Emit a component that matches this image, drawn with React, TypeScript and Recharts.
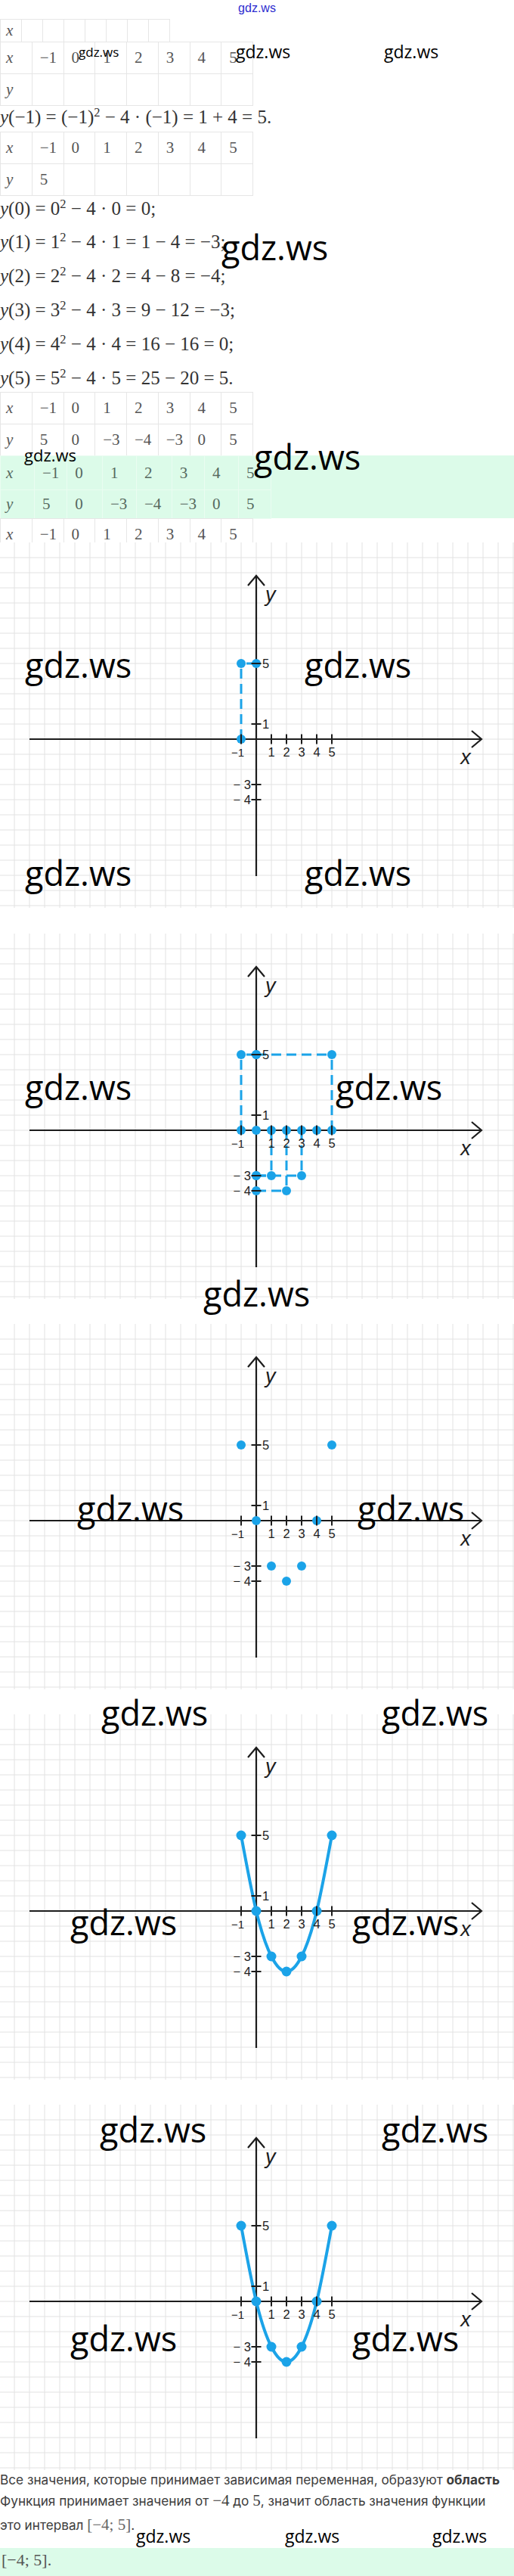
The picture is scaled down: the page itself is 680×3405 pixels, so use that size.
import React from 'react';
import { ComposedChart, XAxis, YAxis, Scatter, Line, ReferenceLine } from 'recharts';

// y = x^2 - 4x, values as in the tables
const xValues = [-1, 0, 1, 2, 3, 4, 5];
const yValues = [5, 0, -3, -4, -3, 0, 5];

// axis ticks and their labels
const xTickValues = [-1, 1, 2, 3, 4, 5];
const xTickLabels = ['−1', '1', '2', '3', '4', '5'];
const yTickValues = [5, 1, -3, -4];
const yTickLabels = ['5', '1', '− 3', '− 4'];

const BLUE = '#1ba3e8';
const INK = '#1c1c1c';
const W = 680;
const H = 483;
const UNIT = 20;
const OX = 339;
const OY = 260;

const xDomain = [-OX / UNIT, (W - OX) / UNIT];
const yDomain = [-(H - OY) / UNIT, OY / UNIT];
// graph paper lines, one per unit
const gridX = Array.from({ length: 34 }, (_, i) => i - 16);
const gridY = Array.from({ length: 24 }, (_, i) => i - 11);

const points = xValues.map((x, i) => ({ x, y: yValues[i] }));
const xTicks = xTickValues.map((x, i) => ({ x, y: 0, label: xTickLabels[i] }));
const yTicks = yTickValues.map((y, i) => ({ x: 0, y, label: yTickLabels[i] }));

const fmt = (v: number) => (v < 0 ? `−${-v}` : `${v}`);
const SANS = '"Liberation Sans", Arial, sans-serif';
const SERIF = '"Liberation Serif", "Times New Roman", serif';

function projections(pts: { x: number; y: number }[]) {
  const segs: { x: number; y: number }[][] = [];
  const dots: { x: number; y: number }[] = [];
  pts.forEach((p) => {
    if (p.x !== 0 && p.y !== 0) {
      segs.push([{ x: p.x, y: 0 }, { x: p.x, y: p.y }]);
      segs.push([{ x: 0, y: p.y }, { x: p.x, y: p.y }]);
      dots.push({ x: p.x, y: 0 }, { x: 0, y: p.y });
    }
  });
  return { segs, dots };
}

const axisShape = (letter: 'x' | 'y') => (p: any) => {
  const { x1, y1, x2, y2 } = p;
  const head =
    letter === 'x'
      ? `M${x2 - 13},${y2 - 11}L${x2},${y2}L${x2 - 13},${y2 + 11}`
      : `M${x2 - 11},${y2 + 13}L${x2},${y2}L${x2 + 11},${y2 + 13}`;
  return (
    <g>
      <line x1={x1} y1={y1} x2={x2} y2={y2} stroke={INK} strokeWidth={2.2} />
      <path d={head} fill="none" stroke={INK} strokeWidth={2.2} />
      {letter === 'x' ? (
        <text x={x2 - 21} y={y2 + 33} textAnchor="middle" fontSize={27} fontStyle="italic" fontFamily={SANS} fill={INK}>x</text>
      ) : (
        <text x={x2 + 12} y={y2 + 34} fontSize={27} fontStyle="italic" fontFamily={SANS} fill={INK}>y</text>
      )}
    </g>
  );
};

const xTickShape = (p: any) => (
  <g>
    <line x1={p.cx} y1={p.cy - 6.5} x2={p.cx} y2={p.cy + 6.5} stroke={INK} strokeWidth={2} />
    <text
      x={p.payload.x < 0 ? p.cx + 4 : p.cx}
      y={p.cy + 22.5}
      textAnchor={p.payload.x < 0 ? 'end' : 'middle'}
      fontSize={p.payload.x < 0 ? 15 : 16.5}
      fontFamily={SANS}
      fill={INK}
    >
      {p.payload.label}
    </text>
  </g>
);

const yTickShape = (p: any) => (
  <g>
    <line x1={p.cx - 6.5} y1={p.cy} x2={p.cx + 6.5} y2={p.cy} stroke={INK} strokeWidth={2} />
    <text
      x={p.payload.y > 0 ? p.cx + 8 : p.cx - 7}
      y={p.cy + 6}
      textAnchor={p.payload.y > 0 ? 'start' : 'end'}
      fontSize={16.5}
      fontFamily={SANS}
      fill={INK}
    >
      {p.payload.label}
    </text>
  </g>
);

const dotShape = (p: any) => <circle cx={p.cx} cy={p.cy} r={6} fill={BLUE} />;

type Mode = 'first' | 'proj' | 'dots' | 'curve';

function Plot({ mode }: { mode: Mode }) {
  const shown = mode === 'first' ? points.slice(0, 1) : points;
  const proj = mode === 'first' || mode === 'proj' ? projections(shown) : { segs: [], dots: [] };
  return (
    <ComposedChart width={W} height={H} margin={{ top: 0, right: 0, bottom: 0, left: 0 }}>
      <XAxis type="number" dataKey="x" domain={xDomain} allowDataOverflow hide />
      <YAxis type="number" dataKey="y" domain={yDomain} allowDataOverflow hide />
      {gridX.map((x) => (
        <ReferenceLine key={`gx${x}`} x={x} stroke="#e2e2e2" strokeWidth={1} />
      ))}
      {gridY.map((y) => (
        <ReferenceLine key={`gy${y}`} y={y} stroke="#e2e2e2" strokeWidth={1} />
      ))}
      <ReferenceLine segment={[{ x: -15, y: 0 }, { x: 14.9, y: 0 }]} shape={axisShape('x')} />
      <ReferenceLine segment={[{ x: 0, y: -9.05 }, { x: 0, y: 10.8 }]} shape={axisShape('y')} />
      {proj.segs.map((s, i) => (
        <ReferenceLine key={i} segment={s} stroke={BLUE} strokeWidth={3} strokeDasharray="13 7" />
      ))}
      {mode === 'curve' && (
        <Line
          data={points}
          dataKey="y"
          type="natural"
          stroke={BLUE}
          strokeWidth={4}
          dot={{ r: 6.5, fill: BLUE, stroke: BLUE, strokeWidth: 0 }}
          isAnimationActive={false}
        />
      )}
      {mode !== 'curve' && <Scatter data={[...shown, ...proj.dots]} shape={dotShape} isAnimationActive={false} />}
      <Scatter data={xTicks} shape={xTickShape} isAnimationActive={false} />
      <Scatter data={yTicks} shape={yTickShape} isAnimationActive={false} />
    </ComposedChart>
  );
}

function Table(props: { top: number; cols: number[]; heights: number[]; rows: React.ReactNode[][]; border: string; color: string }) {
  const { top, cols, heights, rows, border, color } = props;
  return (
    <div style={{ position: 'absolute', left: 0, top, borderTop: `1px solid ${border}`, borderLeft: `1px solid ${border}`, fontFamily: SERIF, fontSize: 21, color }}>
      {rows.map((row, r) => (
        <div key={r} style={{ display: 'flex', height: heights[r] }}>
          {row.map((c, i) => (
            <div
              key={i}
              style={{
                width: cols[i],
                boxSizing: 'border-box',
                borderRight: `1px solid ${border}`,
                borderBottom: `1px solid ${border}`,
                display: 'flex',
                alignItems: 'center',
                paddingLeft: i === 0 ? 7 : 10,
                fontStyle: i === 0 ? 'italic' : 'normal',
              }}
            >
              {c}
            </div>
          ))}
        </div>
      ))}
    </div>
  );
}

const Mark = ({ x, y, size }: { x: number; y: number; size: number }) => (
  <div style={{ position: 'absolute', left: x, top: y - 0.13 * size, fontFamily: '"Open Sans", sans-serif', fontSize: size, lineHeight: 1, color: '#000', whiteSpace: 'nowrap', zIndex: 5 }}>
    gdz.ws
  </div>
);

const MathLine = ({ y, children }: { y: number; children: React.ReactNode }) => (
  <div style={{ position: 'absolute', left: 0, top: y - 15, lineHeight: '30px', fontFamily: SERIF, fontSize: 25, color: '#333', whiteSpace: 'nowrap' }}>
    {children}
  </div>
);

const Sq = ({ n }: { n: number }) => <sup style={{ fontSize: '0.66em', lineHeight: 0 }}>{n}</sup>;
const I = ({ children }: { children: React.ReactNode }) => <i>{children}</i>;

const col8 = Array(8).fill(41.75);
const greenCols = [45, 43.3, 46.7, 45, 46.7, 43.3, 45, 43.3];
const xRow = ['x', ...xValues.map(fmt)];
const yRowFull = ['y', ...yValues.map(fmt)];
const yRowFirst = ['y', fmt(yValues[0]), '', '', '', '', '', ''];
const yRowEmpty = ['y', '', '', '', '', '', '', ''];

const chartTops = [717, 1234, 1750, 2266, 2782];
const modes: Mode[] = ['first', 'proj', 'dots', 'curve', 'curve'];

export default function App() {
  return (
    <div style={{ position: 'relative', width: 680, height: 3405, overflow: 'hidden', background: '#fff' }}>
      <style>{'html,body{margin:0;padding:0;overflow:hidden;}'}</style>

      <div style={{ position: 'absolute', left: 0, width: 680, top: 2, textAlign: 'center', fontFamily: SANS, fontSize: 16, color: '#2d2dd0' }}>gdz.ws</div>

      <Table top={25} cols={Array(8).fill(28)} heights={[30]} rows={[['x', '', '', '', '', '', '', '']]} border="#e6e6e6" color="#555" />
      <Table top={55} cols={col8} heights={[42, 42]} rows={[xRow, yRowEmpty]} border="#e6e6e6" color="#555" />

      <MathLine y={155}>
        <I>y</I>(−1) = (−1)<Sq n={2} /> − 4 · (−1) = 1 + 4 = 5.
      </MathLine>

      <Table top={174} cols={col8} heights={[42, 42]} rows={[xRow, yRowFirst]} border="#e6e6e6" color="#555" />

      <MathLine y={276}>
        <I>y</I>(0) = 0<Sq n={2} /> − 4 · 0 = 0;
      </MathLine>
      <MathLine y={320}>
        <I>y</I>(1) = 1<Sq n={2} /> − 4 · 1 = 1 − 4 = −3;
      </MathLine>
      <MathLine y={365}>
        <I>y</I>(2) = 2<Sq n={2} /> − 4 · 2 = 4 − 8 = −4;
      </MathLine>
      <MathLine y={410}>
        <I>y</I>(3) = 3<Sq n={2} /> − 4 · 3 = 9 − 12 = −3;
      </MathLine>
      <MathLine y={455}>
        <I>y</I>(4) = 4<Sq n={2} /> − 4 · 4 = 16 − 16 = 0;
      </MathLine>
      <MathLine y={500}>
        <I>y</I>(5) = 5<Sq n={2} /> − 4 · 5 = 25 − 20 = 5.
      </MathLine>

      <Table top={518} cols={col8} heights={[42, 42]} rows={[xRow, yRowFull]} border="#e6e6e6" color="#555" />

      <div style={{ position: 'absolute', left: 0, top: 602, width: 680, height: 83, background: '#dcfbe9' }} />
      <Table top={602} cols={greenCols} heights={[45, 38]} rows={[xRow, yRowFull]} border="#eafcf1" color="#56695f" />

      <Table top={685} cols={col8} heights={[42]} rows={[xRow]} border="#e6e6e6" color="#555" />

      {chartTops.map((t, i) => (
        <div key={i} style={{ position: 'absolute', left: 0, top: t, width: W, height: H, background: '#fff' }}>
          <Plot mode={modes[i]} />
        </div>
      ))}

      <div style={{ position: 'absolute', left: 0, top: 3265, width: 680, fontFamily: 'Inter, sans-serif', fontSize: 17.2, color: '#3d3d3d', whiteSpace: 'nowrap' }}>
        <div style={{ position: 'absolute', top: 1, lineHeight: '24px' }}>
          Все значения, которые принимает зависимая переменная, образуют <b>область</b>
        </div>
        <div style={{ position: 'absolute', top: 28, lineHeight: '24px' }}>
          Функция принимает значения от <span style={{ fontFamily: SERIF, fontSize: 21 }}>−4</span> до{' '}
          <span style={{ fontFamily: SERIF, fontSize: 21 }}>5</span>, значит область значения функции
        </div>
        <div style={{ position: 'absolute', top: 60, lineHeight: '24px' }}>
          это интервал <span style={{ fontFamily: SERIF, fontSize: 21, color: '#666' }}>[−4; 5]</span>.
        </div>
      </div>
      <div style={{ position: 'absolute', left: 0, top: 3368, width: 680, height: 37, background: '#dcfbe9' }}>
        <div style={{ position: 'absolute', left: 2, top: 3, fontFamily: SERIF, fontSize: 22, color: '#555' }}>[−4; 5].</div>
      </div>

      <Mark x={104} y={62} size={17} />
      <Mark x={312} y={60} size={23} />
      <Mark x={508} y={60} size={23} />
      <Mark x={293} y={310} size={45} />
      <Mark x={32} y={593} size={22} />
      <Mark x={336} y={587} size={45} />

      <Mark x={33} y={862} size={45} />
      <Mark x={403} y={862} size={45} />
      <Mark x={33} y={1137} size={45} />
      <Mark x={403} y={1137} size={45} />

      <Mark x={33} y={1420} size={45} />
      <Mark x={444} y={1420} size={45} />
      <Mark x={269} y={1693} size={45} />

      <Mark x={102} y={1977} size={45} />
      <Mark x={473} y={1977} size={45} />
      <Mark x={134} y={2247} size={45} />
      <Mark x={505} y={2247} size={45} />

      <Mark x={93} y={2524} size={45} />
      <Mark x={466} y={2524} size={45} />

      <Mark x={132} y={2798} size={45} />
      <Mark x={505} y={2798} size={45} />
      <Mark x={93} y={3074} size={45} />
      <Mark x={466} y={3074} size={45} />

      <Mark x={180} y={3344} size={23} />
      <Mark x={377} y={3344} size={23} />
      <Mark x={572} y={3344} size={23} />
    </div>
  );
}
